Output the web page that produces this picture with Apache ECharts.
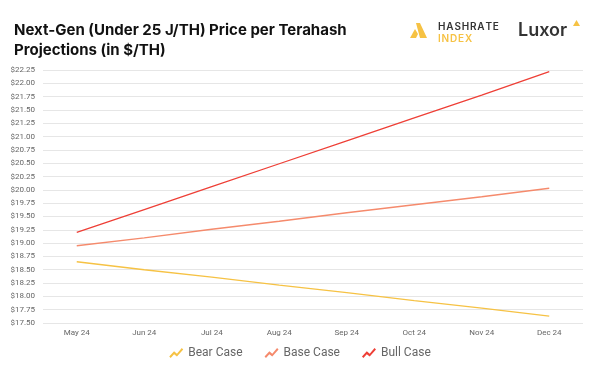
<!DOCTYPE html>
<html>
<head>
<meta charset="utf-8">
<script src="https://cdn.jsdelivr.net/npm/echarts@6/dist/echarts.min.js"></script>
<style>
  html, body { margin: 0; padding: 0; background: #fff; }
  #chart { width: 600px; height: 377px; }
</style>
</head>
<body>
<div id="chart"></div>
<script>
const months = ['May 24', 'Jun 24', 'Jul 24', 'Aug 24', 'Sep 24', 'Oct 24', 'Nov 24', 'Dec 24'];
const bearCase = [18.65, 18.50, 18.36, 18.21, 18.07, 17.92, 17.78, 17.63];
const baseCase = [18.95, 19.10, 19.26, 19.41, 19.57, 19.72, 19.87, 20.03];
const bullCase = [19.20, 19.63, 20.06, 20.49, 20.92, 21.35, 21.78, 22.22];

// zigzag icon used in the legend
const zigzag = 'path://M0,11 L5,5.5 L8,8 L13,2 L14.5,3.5 L8,11 L5,8.5 L1.5,12.5 Z';
const hs = '\u200a';

let myChart = echarts.init(document.getElementById('chart'), null, { renderer: 'canvas' });
let option = {
    backgroundColor: '#fff',
    animation: false,
    color: ['#F6C244', '#F58A6C', '#EE3F36'],
    textStyle: { fontFamily: 'Roboto' },
    graphic: [
        {
            type: 'text', left: 14, top: 20,
            style: {
                text: 'Next-Gen (Under 25 J/TH) Price per Terahash\nProjections (in $/TH)',
                font: 'bold 15px Inter', fill: '#111', lineHeight: 20
            }
        },
        {
            // hashrate index mark
            type: 'polygon',
            shape: { points: [[410, 38], [415, 29], [418, 34], [416, 38]] },
            style: { fill: '#F6C244' }
        },
        {
            type: 'polygon',
            shape: { points: [[416, 23], [420, 23], [427, 38], [420, 38]] },
            style: { fill: '#F6C244' }
        },
        {
            type: 'text', left: 438, top: 22,
            style: { text: 'HASHRATE'.split('').join(hs), font: '600 10px Inter', fill: '#333' }
        },
        {
            type: 'text', left: 438, top: 34,
            style: { text: 'INDEX'.split('').join(hs), font: '600 10px Inter', fill: '#F6C244' }
        },
        {
            type: 'text', left: 518, top: 22,
            style: { text: 'Luxor', font: '600 18px Inter', fill: '#333' }
        },
        {
            type: 'polygon',
            shape: { points: [[573, 26], [576.5, 20], [580, 26]] },
            style: { fill: '#F6C244' }
        }
    ],
    legend: {
        bottom: 13,
        left: 'center',
        itemWidth: 14,
        itemHeight: 12,
        itemGap: 22,
        textStyle: { color: '#666', fontSize: 12 },
        data: [
            { name: 'Bear Case', icon: zigzag },
            { name: 'Base Case', icon: zigzag },
            { name: 'Bull Case', icon: zigzag }
        ]
    },
    grid: {
        top: 70,
        left: 43,
        right: 17,
        bottom: 54
    },
    xAxis: {
        type: 'category',
        data: months,
        boundaryGap: true,
        axisLine: { show: false },
        axisTick: { show: false },
        axisLabel: { color: '#666', fontSize: 8, margin: 6 }
    },
    yAxis: {
        type: 'value',
        min: 17.5,
        max: 22.25,
        interval: 0.25,
        axisLabel: {
            color: '#666', fontSize: 8, margin: 8,
            formatter: v => '$' + v.toFixed(2)
        },
        splitLine: { lineStyle: { color: '#E6E6E6', width: 1 } }
    },
    series: [
        { name: 'Bear Case', type: 'line', data: bearCase, showSymbol: false, lineStyle: { width: 1.3 } },
        { name: 'Base Case', type: 'line', data: baseCase, showSymbol: false, lineStyle: { width: 1.3 } },
        { name: 'Bull Case', type: 'line', data: bullCase, showSymbol: false, lineStyle: { width: 1.3 } }
    ]
};
myChart.setOption(option);
</script>
</body>
</html>
